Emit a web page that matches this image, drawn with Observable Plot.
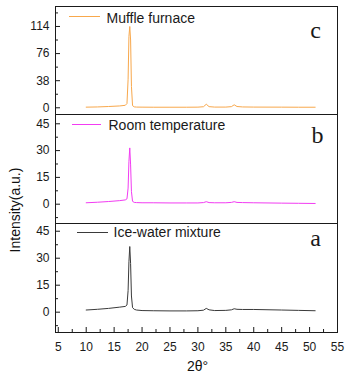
<!DOCTYPE html>
<html><head><meta charset="utf-8">
<script src="https://cdn.jsdelivr.net/npm/d3@7"></script>
<script src="https://cdn.jsdelivr.net/npm/@observablehq/plot@0.6"></script>
<style>
body{margin:0;background:#fff;}
#chart{position:relative;width:351px;height:378px;font-family:"Liberation Sans",Arial,sans-serif;color:#111;overflow:hidden;}
#chart svg{position:absolute;left:0;top:0;}
.lg{position:absolute;height:1px;}
.lbl{position:absolute;font-size:14px;line-height:14px;white-space:nowrap;}
</style></head><body><div id="chart"></div>
<script>
// 2θ positions (degrees)
const twoTheta = [10, 12, 14, 16, 17, 17.3, 17.5, 17.65, 17.8, 17.95, 18.1, 18.3, 18.6, 19, 20, 22, 25, 28, 30, 31, 31.5, 32, 33, 35, 36, 36.5, 37, 38, 40, 45, 48, 51];
// intensities (a.u.)
const iceWater = [1.2, 1.6, 2.1, 2.8, 3.2, 4.0, 12, 28, 36.5, 27, 9, 2.5, 1.6, 1.2, 0.9, 0.8, 0.7, 0.7, 0.8, 1.1, 2.1, 1.3, 0.9, 1.0, 1.3, 1.9, 1.6, 1.5, 1.5, 1.2, 1.0, 0.8];
const roomTemp = [0.8, 1.1, 1.5, 2.0, 2.4, 3.0, 9, 24, 31.5, 22, 7, 1.6, 1.0, 0.9, 0.8, 0.8, 0.7, 0.7, 0.7, 0.9, 1.4, 0.9, 0.8, 0.8, 1.0, 1.4, 1.0, 0.9, 0.8, 0.6, 0.5, 0.4];
const muffle = [0.9, 1.2, 1.8, 2.6, 3.5, 6, 40, 100, 114, 95, 30, 3, 1.3, 1.0, 0.9, 0.8, 0.8, 0.8, 0.9, 1.5, 5, 1.6, 1.0, 1.0, 1.6, 4.2, 1.8, 1.2, 1.0, 0.9, 0.8, 0.8];

const seriesNames = ["Muffle furnace", "Room temperature", "Ice-water mixture"];
const seriesColors = ["#f8a84c", "#f23cf2", "#3a3a3a"];
const panelLetters = ["c", "b", "a"];
const yTicksC = [0, 38, 76, 114];
const yMinorC = [19, 57, 95, 133];
const yTicksAB = [0, 15, 30, 45];
const yMinorAB = [-7.5, 7.5, 22.5, 37.5];
const xTicks = [5, 10, 15, 20, 25, 30, 35, 40, 45, 50, 55];
const xMinor = [7.5, 12.5, 17.5, 22.5, 27.5, 32.5, 37.5, 42.5, 47.5, 52.5];

const chart = document.getElementById("chart");
const ink = "#1a1a1a";

function panel(o) {
  const data = twoTheta.map((t, i) => ({t, v: o.values[i]}));
  const marks = [
    Plot.line(data, {x: "t", y: "v", stroke: o.color, strokeWidth: 1}),
    Plot.frame({stroke: ink, strokeWidth: 1}),
    Plot.axisY(o.ticks, {tickSize: 5, dx: 5, fill: "none", stroke: ink, label: null}),
    Plot.axisY(o.minor.filter(v => v > o.domain[0] && v < o.domain[1]), {tickSize: 3, dx: 3, fill: "none", stroke: ink, label: null}),
    Plot.axisY(o.ticks, {tickSize: 0, tickPadding: 6, fill: ink, label: null, fontSize: 12}),
    Plot.text([o.letter], {frameAnchor: "top-right", textAnchor: "middle", lineAnchor: "bottom", dx: o.letterDx, dy: o.letterDy, fontFamily: "Liberation Serif", fontSize: 24, fill: ink}),
    Plot.text([o.name], {frameAnchor: "top-left", textAnchor: "start", lineAnchor: "bottom", dx: o.legDx, dy: o.legDy, fontSize: 14, fill: ink})
  ];
  if (o.xAxis) {
    marks.push(
      Plot.axisX(xTicks, {anchor: "bottom", tickSize: 5, dy: -5, fill: "none", stroke: ink, label: null}),
      Plot.axisX(xMinor, {anchor: "bottom", tickSize: 3, dy: -3, fill: "none", stroke: ink, label: null}),
      Plot.axisX(xTicks, {anchor: "bottom", tickSize: 0, tickPadding: 10, fill: ink, label: null, fontSize: 12})
    );
  }
  const svg = Plot.plot({
    width: 351, height: 378,
    marginLeft: 55, marginRight: 14,
    marginTop: o.top, marginBottom: 378 - o.bottom,
    x: {domain: [4.5, 55], axis: null},
    y: {domain: o.domain, axis: null},
    style: {background: "transparent", fontFamily: "'Liberation Sans', Arial, sans-serif", fontSize: "12px", overflow: "visible"},
    marks
  });
  chart.appendChild(svg);
}

panel({values: muffle, color: seriesColors[0], domain: [-9.4, 142], ticks: yTicksC, minor: yMinorC, top: 6, bottom: 114,
  letter: panelLetters[0], letterDx: -22, letterDy: 31, name: seriesNames[0], legDx: 51, legDy: 16.5});
panel({values: roomTemp, color: seriesColors[1], domain: [-10.8, 50.2], ticks: yTicksAB, minor: yMinorAB, top: 114, bottom: 223,
  letter: panelLetters[1], letterDx: -20, letterDy: 28, name: seriesNames[1], legDx: 53, legDy: 15});
panel({values: iceWater, color: seriesColors[2], domain: [-11.3, 49.3], ticks: yTicksAB, minor: yMinorAB, top: 223, bottom: 332,
  letter: panelLetters[2], letterDx: -22, letterDy: 22, name: seriesNames[2], legDx: 58, legDy: 13.7, xAxis: true});

// legend line samples
[[69, 16, 31, 0], [72, 124, 29, 1], [77, 232, 31, 2]].forEach(([l, t, w, k]) => {
  const d = document.createElement("div");
  d.className = "lg";
  d.style.left = l + "px"; d.style.top = t + "px"; d.style.width = w + "px";
  d.style.background = seriesColors[k];
  chart.appendChild(d);
});

// axis titles
const yl = document.createElement("div");
yl.className = "lbl";
yl.textContent = "Intensity(a.u.)";
yl.style.left = "15px"; yl.style.top = "210px";
yl.style.transform = "translate(-50%,-50%) rotate(-90deg)";
chart.appendChild(yl);

const xl = document.createElement("div");
xl.className = "lbl";
xl.textContent = "2θ°";
xl.style.left = "197.5px"; xl.style.top = "359px";
xl.style.transform = "translateX(-50%)";
chart.appendChild(xl);
</script>
</body></html>
